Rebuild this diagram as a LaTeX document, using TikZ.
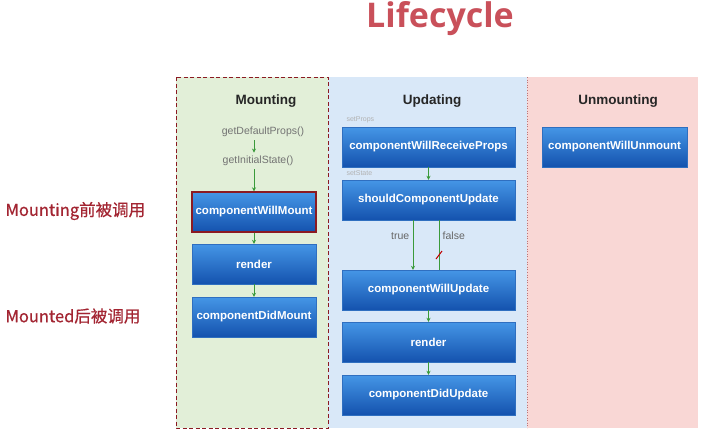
\documentclass[tikz,border=0pt]{standalone}
\usepackage{fontspec}
\setmainfont{Liberation Sans}
\newfontfamily\cjk[FakeBold=0.6]{Noto Sans CJK SC}
\newfontfamily\titlefont{Open Sans}
\usetikzlibrary{arrows.meta}
\definecolor{titlered}{HTML}{C9505A}
\definecolor{labelred}{HTML}{A32532}
\definecolor{mountfill}{HTML}{E2EFD8}
\definecolor{updfill}{HTML}{D9E8F8}
\definecolor{unmfill}{HTML}{F9D7D5}
\definecolor{darkred}{HTML}{8B1A22}
\definecolor{boxtop}{HTML}{4596E6}
\definecolor{boxbot}{HTML}{1452AE}
\definecolor{boxedge}{HTML}{2F6FC0}
\definecolor{arrgreen}{HTML}{3A9A3A}
\tikzset{
  blue box/.style={rectangle, top color=boxtop, bottom color=boxbot, draw=boxedge, line width=0.4pt,
    text=white, font=\bfseries\fontsize{11.5}{13}\selectfont, inner sep=0pt},
  head/.style={font=\bfseries\fontsize{13.5}{16}\selectfont, text=black!85},
  gray label/.style={font=\fontsize{10.5}{12}\selectfont, text=black!55},
  tiny gray/.style={font=\fontsize{7}{8}\selectfont, text=black!30, anchor=west},
  flow/.style={draw=arrgreen, line width=0.8pt, -{Stealth[length=4pt,width=4pt]}},
  side label/.style={font=\cjk\fontsize{16.5}{19}\selectfont, text=labelred, anchor=west},
}
\begin{document}
\begin{tikzpicture}[x=1pt,y=-1pt]
\useasboundingbox (0,0) rectangle (705,440);
\fill[white] (0,0) rectangle (705,440);
% panels
\fill[mountfill] (176,77) rectangle (328,428);
\fill[updfill] (328,77) rectangle (527,428);
\fill[unmfill] (527,77) rectangle (698,428);
\draw[darkred, line width=1pt, dash pattern=on 4pt off 2.5pt] (176,77) rectangle (328,428);
\draw[darkred!60, line width=0.6pt, dotted] (527,77) -- (527,428);
% title
\node (title) at (440,19) {\titlefont\bfseries\fontsize{34}{38}\selectfont\textcolor{titlered}{Lifecycle}};
% side labels
\node[side label] (lbl1) at (2,211) {Mounting前被调用};
\node[side label] (lbl2) at (2,316) {Mounted后被调用};
% headings
\node[head] (hm) at (266,101) {Mounting};
\node[head] (hu) at (432,101) {Updating};
\node[head] (hx) at (618,101) {Unmounting};
% mounting
\node[gray label] (gdp) at (263,132) {getDefaultProps()};
\node[gray label] (gis) at (258,161) {getInitialState()};
\node[blue box, minimum width=124pt, minimum height=40pt, draw=darkred, line width=1.4pt] (cwm) at (254,212) {componentWillMount};
\node[blue box, minimum width=124pt, minimum height=40pt] (rm) at (254,264) {render};
\node[blue box, minimum width=124pt, minimum height=40pt] (cdm) at (254,317) {componentDidMount};
\draw[flow] (gdp.south -| cwm.north) -- (gis.north -| cwm.north);
\draw[flow] (gis.south -| cwm.north) -- (cwm.north);
\draw[flow] (cwm) -- (rm);
\draw[flow] (rm) -- (cdm);
% updating
\node[tiny gray] (sp) at (343,120) {setProps};
\node[blue box, minimum width=173pt, minimum height=40pt] (cwrp) at (428.5,147) {componentWillReceiveProps};
\node[tiny gray] (ss) at (343,173) {setState};
\node[blue box, minimum width=173pt, minimum height=40pt] (scu) at (428.5,200) {shouldComponentUpdate};
\node[blue box, minimum width=173pt, minimum height=40pt] (cwu) at (428.5,290) {componentWillUpdate};
\node[blue box, minimum width=173pt, minimum height=40pt] (ru) at (428.5,342) {render};
\node[blue box, minimum width=173pt, minimum height=40pt] (cdu) at (428.5,395) {componentDidUpdate};
\draw[flow] (cwrp) -- (scu);
\draw[flow] (scu.south -| 413,0) -- node[left, gray label, text=black!60, pos=0.32] (tl) {true} (cwu.north -| 413,0);
\draw[draw=arrgreen, line width=0.8pt] (scu.south -| 439,0) -- node[right, gray label, text=black!60, pos=0.32] (fl) {false} (cwu.north -| 439,0);
\coordinate (s1) at (436,259);
\coordinate (s2) at (442,251);
\draw[red!75!black, line width=1pt] (s1) -- (s2);
\draw[flow] (cwu) -- (ru);
\draw[flow] (ru) -- (cdu);
% unmounting
\node[blue box, minimum width=145pt, minimum height=40pt] (cwun) at (614.5,147) {componentWillUnmount};
\end{tikzpicture}
\end{document}
